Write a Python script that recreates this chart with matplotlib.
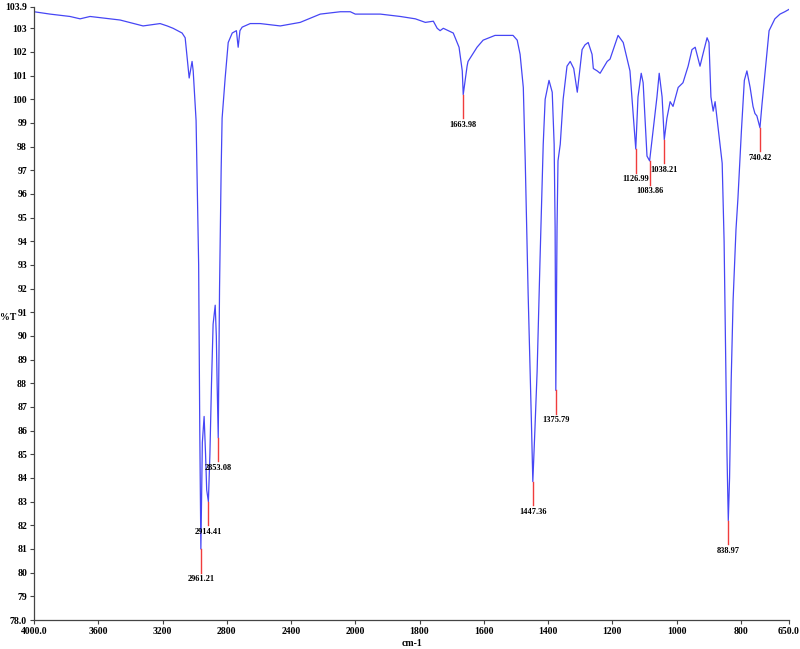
import numpy as np
import matplotlib
matplotlib.use("Agg")
import matplotlib.pyplot as plt
from matplotlib.ticker import FixedLocator, FixedFormatter

# ---- data -----------------------------------------------------------
wavenumber = [4000, 3900, 3776, 3713, 3651, 3589, 3464, 3321, 3215, 3171, 3134, 3078,
              3059, 3047, 3034, 3016, 3009, 2991, 2975, 2968, 2961.21, 2952, 2941, 2932,
              2925, 2914.41, 2905, 2895, 2885, 2872, 2865, 2860, 2853.08, 2845, 2835, 2829,
              2810, 2791, 2766, 2740, 2729, 2718, 2704, 2654, 2592, 2467, 2343, 2218,
              2093, 2031, 2000, 1984, 1922, 1860, 1813, 1782, 1757, 1745, 1736, 1726,
              1695, 1677, 1667, 1663.98, 1652, 1649, 1621, 1602, 1565, 1509, 1496, 1487,
              1477, 1471, 1462, 1452, 1447.36, 1441, 1434, 1425, 1415, 1409, 1397, 1387,
              1381, 1378, 1375.79, 1372, 1369, 1362, 1353, 1341, 1331, 1320, 1309, 1294,
              1285, 1275, 1263, 1259, 1247, 1238, 1216, 1207, 1182, 1166, 1145, 1135,
              1126.99, 1120, 1110, 1104, 1092, 1083.86, 1073, 1061, 1054, 1045, 1038.21, 1030,
              1020, 1011, 995, 980, 964, 952, 942, 927, 918, 905, 899, 893,
              886, 880, 874, 858, 852, 847, 843, 838.97, 835, 830, 824, 815,
              809, 798, 789, 781, 771, 762, 756, 750, 740.42, 734, 722, 712,
              694, 678, 663, 650]
transmittance = [103.7, 103.6, 103.5, 103.4, 103.5, 103.45, 103.35, 103.1, 103.2, 103.1, 103.0, 102.8,
                 102.6, 101.8, 100.9, 101.6, 101.2, 99.1, 93.0, 86.0, 81.0, 85.5, 86.6, 85.0,
                 83.5, 83.0, 85.0, 88.0, 90.5, 91.3, 90.0, 88.0, 85.7, 92.0, 97.0, 99.2,
                 100.9, 102.4, 102.8, 102.9, 102.2, 102.9, 103.05, 103.2, 103.2, 103.1, 103.25, 103.6,
                 103.7, 103.7, 103.6, 103.6, 103.6, 103.5, 103.4, 103.25, 103.3, 103.0, 102.9, 103.0,
                 102.8, 102.2, 101.2, 100.2, 101.4, 101.6, 102.2, 102.5, 102.7, 102.7, 102.5, 101.9,
                 100.5, 97.4, 91.8, 86.5, 83.85, 86.0, 88.5, 93.2, 98.1, 100.0, 100.8, 100.3,
                 98.1, 94.6, 87.7, 94.6, 97.4, 98.1, 100.0, 101.4, 101.6, 101.3, 100.3, 102.1,
                 102.3, 102.4, 101.9, 101.3, 101.2, 101.1, 101.6, 101.7, 102.7, 102.4, 101.2, 99.4,
                 97.9, 100.1, 101.1, 100.7, 97.6, 97.4, 98.7, 100.1, 101.1, 100.1, 98.3, 99.2,
                 99.9, 99.7, 100.5, 100.7, 101.4, 102.1, 102.2, 101.4, 101.9, 102.6, 102.4, 100.1,
                 99.5, 99.9, 99.2, 97.3, 94.0, 89.0, 85.0, 82.2, 84.0, 88.1, 91.5, 94.5,
                 95.8, 98.7, 100.8, 101.2, 100.5, 99.7, 99.4, 99.3, 98.8, 99.8, 101.5, 102.9,
                 103.4, 103.6, 103.7, 103.8]

peak_wn = [2961.21, 2914.41, 2853.08, 1663.98, 1447.36, 1375.79,
           1126.99, 1083.86, 1038.21, 838.97, 740.42]
peak_T = [81.0, 83.0, 85.7, 100.2, 83.85, 87.7, 97.9, 97.4, 98.3, 82.2, 98.8]
peak_labels = ["2961.21", "2914.41", "2853.08", "1663.98", "1447.36", "1375.79",
               "1126.99", "1083.86", "1038.21", "838.97", "740.42"]

x_ticks = [4000, 3600, 3200, 2800, 2400, 2000, 1800, 1600, 1400, 1200, 1000, 800, 650]
x_tick_labels = ["4000.0", "3600", "3200", "2800", "2400", "2000", "1800", "1600",
                 "1400", "1200", "1000", "800", "650.0"]
y_ticks = [78.0] + list(range(79, 104)) + [103.9]
y_tick_labels = ["78.0"] + [str(v) for v in range(79, 104)] + ["103.9"]

# ---- plot -----------------------------------------------------------
SERIF = ["Liberation Serif", "DejaVu Serif"]

def fwd(x):
    x = np.asarray(x, dtype=float)
    return np.where(x > 2000, 2000 + (x - 2000) / 2.0, x)

def inv(u):
    u = np.asarray(u, dtype=float)
    return np.where(u > 2000, 2000 + (u - 2000) * 2.0, u)

fig = plt.figure(figsize=(8.0, 6.49), dpi=100)
ax = fig.add_axes([34 / 800, 1 - 620 / 649, 755 / 800, 613 / 649])
ax.set_xscale("function", functions=(fwd, inv))

ax.plot(wavenumber, transmittance, color="#4646f5", lw=0.9)

for wn, t, lab in zip(peak_wn, peak_T, peak_labels):
    ax.plot([wn, wn], [t, t - 1.0], color="#f03c3c", lw=1.0)
    ax.text(wn, t - 1.1, lab, ha="center", va="top", fontsize=6,
            fontweight="bold", family=SERIF, color="black")

ax.set_xlim(4000, 650)
ax.set_ylim(78.0, 103.9)

ax.xaxis.set_major_locator(FixedLocator(x_ticks))
ax.xaxis.set_major_formatter(FixedFormatter(x_tick_labels))
ax.yaxis.set_major_locator(FixedLocator(y_ticks))
ax.yaxis.set_major_formatter(FixedFormatter(y_tick_labels))
ax.xaxis.set_minor_locator(FixedLocator([]))

for lab in ax.get_xticklabels() + ax.get_yticklabels():
    lab.set_fontfamily(SERIF)
    lab.set_fontweight("bold")
    lab.set_fontsize(7)

ax.tick_params(axis="both", which="major", length=3, width=0.8, pad=2, color="#444444")
ax.spines["top"].set_visible(False)
ax.spines["right"].set_visible(False)
for s in ("left", "bottom"):
    ax.spines[s].set_color("#444444")
    ax.spines[s].set_linewidth(0.9)

fig.text(412 / 800, 1 - 644 / 649, "cm-1", ha="center", va="center",
         fontsize=7, fontweight="bold", family=SERIF)
fig.text(0 / 800, 1 - 318 / 649, "%T", ha="left", va="center",
         fontsize=7, fontweight="bold", family=SERIF)

fig.savefig("out.png", dpi=100)
